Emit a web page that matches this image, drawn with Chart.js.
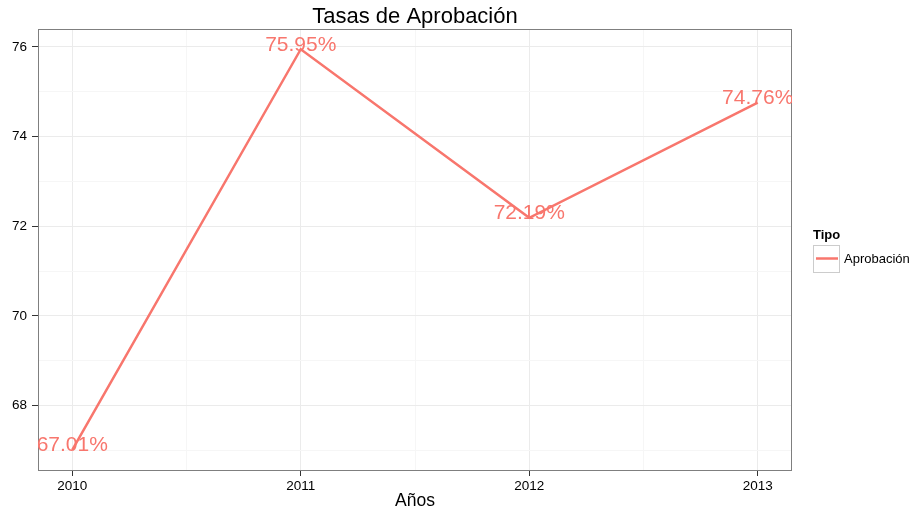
<!DOCTYPE html>
<html>
<head>
<meta charset="utf-8">
<script src="https://cdn.jsdelivr.net/npm/chart.js@4"></script>
<style>
  body { margin: 0; background: #fff; }
  canvas { display: block; }
</style>
</head>
<body>
<canvas id="tasasChart" width="919" height="518"></canvas>
<script>
// datos
const years = [2010, 2011, 2012, 2013];
const tasas = [67.01, 75.95, 72.19, 74.76];
const serieNombre = 'Aprobación';
const legendTitle = 'Tipo';
const yMajorTicks = [68, 70, 72, 74, 76];
const yMinorTicks = [67, 69, 71, 73, 75];
const xMinorTicks = [2010.5, 2011.5, 2012.5];

const ROJO = '#F8766D';
const FONT = '"Liberation Sans", Arial, sans-serif';

// rango con expansión del 5% como ggplot
const yMin = Math.min(...tasas), yMax = Math.max(...tasas);
const yPad = (yMax - yMin) * 0.05;
const xPad = (years[years.length - 1] - years[0]) * 0.05;

const isMinor = (list, v) => list.some(m => Math.abs(m - v) < 1e-6);

// borde del panel
const panelBorder = {
    id: 'panelBorder',
    afterDatasetsDraw(chart) {
        const { ctx, chartArea: a } = chart;
        ctx.save();
        ctx.strokeStyle = '#7f7f7f';
        ctx.lineWidth = 1;
        ctx.strokeRect(Math.round(a.left) + 0.5, Math.round(a.top) + 0.5,
            Math.round(a.width) - 1, Math.round(a.height));
        ctx.restore();
    }
};

// etiquetas de porcentaje sobre cada punto
const etiquetas = {
    id: 'etiquetas',
    afterDatasetsDraw(chart) {
        const { ctx, chartArea: a } = chart;
        const meta = chart.getDatasetMeta(0);
        ctx.save();
        ctx.beginPath();
        ctx.rect(a.left, a.top, a.width, a.height);
        ctx.clip();
        ctx.font = '21px ' + FONT;
        ctx.fillStyle = ROJO;
        ctx.textAlign = 'center';
        ctx.textBaseline = 'alphabetic';
        meta.data.forEach((pt, i) => {
            ctx.fillText(tasas[i].toFixed(2) + '%', pt.x, pt.y + 1.5);
        });
        ctx.restore();
    }
};

// leyenda a la derecha
const leyenda = {
    id: 'leyenda',
    afterDraw(chart) {
        const { ctx } = chart;
        ctx.save();
        ctx.fillStyle = '#000';
        ctx.textBaseline = 'middle';
        ctx.textAlign = 'left';
        ctx.font = 'bold 13px ' + FONT;
        ctx.fillText(legendTitle, 813, 235);
        ctx.strokeStyle = '#cccccc';
        ctx.lineWidth = 1;
        ctx.strokeRect(813.5, 245.5, 26, 27);
        ctx.strokeStyle = ROJO;
        ctx.lineWidth = 2.5;
        ctx.beginPath();
        ctx.moveTo(816, 258.5);
        ctx.lineTo(838, 258.5);
        ctx.stroke();
        ctx.font = '13px ' + FONT;
        ctx.fillText(serieNombre, 844, 259);
        ctx.restore();
    }
};

const ctx = document.getElementById('tasasChart').getContext('2d');

new Chart(ctx, {
    type: 'line',
    data: {
        datasets: [{
            label: serieNombre,
            data: years.map((y, i) => ({ x: y, y: tasas[i] })),
            borderColor: ROJO,
            borderWidth: 2.5,
            pointRadius: 0,
            tension: 0,
            fill: false
        }]
    },
    options: {
        responsive: false,
        animation: false,
        layout: { padding: { left: 0, right: 127, top: 0, bottom: 0 } },
        scales: {
            x: {
                type: 'linear',
                min: years[0] - xPad,
                max: years[years.length - 1] + xPad,
                afterBuildTicks: scale => {
                    scale.ticks = years.concat(xMinorTicks).sort((a, b) => a - b).map(v => ({ value: v }));
                },
                afterFit: scale => { scale.height = 48; },
                border: { display: false },
                grid: {
                    color: c => (c.tick && isMinor(xMinorTicks, c.tick.value)) ? '#f6f6f6' : '#ebebeb',
                    tickColor: c => (c.tick && isMinor(xMinorTicks, c.tick.value)) ? 'rgba(0,0,0,0)' : '#333',
                    tickLength: 6,
                    lineWidth: 1
                },
                ticks: {
                    autoSkip: false,
                    maxRotation: 0,
                    padding: 2,
                    color: '#000',
                    font: { family: FONT, size: 13.5 },
                    callback: v => isMinor(xMinorTicks, v) ? '' : String(v)
                },
                title: {
                    display: true,
                    text: 'Años',
                    color: '#000',
                    font: { family: FONT, size: 17.5 },
                    padding: { top: 0, bottom: 6 }
                }
            },
            y: {
                min: yMin - yPad,
                max: yMax + yPad,
                afterBuildTicks: scale => {
                    scale.ticks = yMajorTicks.concat(yMinorTicks).sort((a, b) => a - b).map(v => ({ value: v }));
                },
                afterFit: scale => { scale.width = 38; },
                border: { display: false },
                grid: {
                    color: c => (c.tick && isMinor(yMinorTicks, c.tick.value)) ? '#f6f6f6' : '#ebebeb',
                    tickColor: c => (c.tick && isMinor(yMinorTicks, c.tick.value)) ? 'rgba(0,0,0,0)' : '#333',
                    tickLength: 6,
                    lineWidth: 1
                },
                ticks: {
                    autoSkip: false,
                    padding: 5,
                    color: '#000',
                    font: { family: FONT, size: 13.5 },
                    callback: v => isMinor(yMinorTicks, v) ? '' : String(v)
                }
            }
        },
        plugins: {
            legend: { display: false },
            tooltip: { enabled: false },
            title: {
                display: true,
                fullSize: false,
                text: 'Tasas de Aprobación',
                color: '#000',
                font: { family: FONT, size: 22, weight: 'normal', lineHeight: 1.1 },
                padding: { top: 5, bottom: 0 }
            }
        }
    },
    plugins: [panelBorder, etiquetas, leyenda]
});
</script>
</body>
</html>
